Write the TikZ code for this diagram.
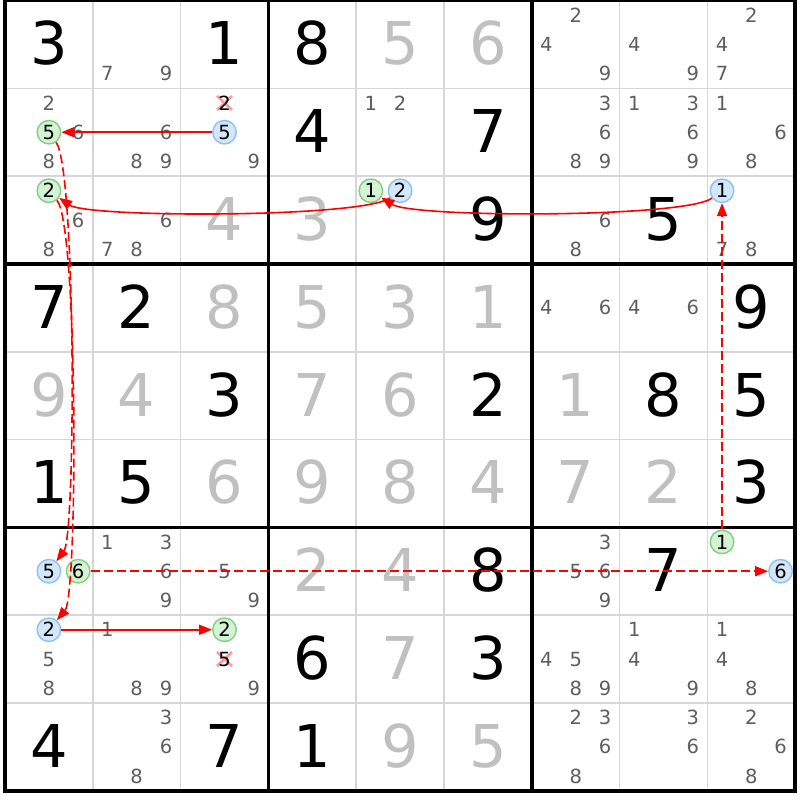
\documentclass[tikz,border=0pt]{standalone}
\usepackage{fontspec}
\setmainfont{DejaVu Sans}
\usetikzlibrary{arrows.meta}
\definecolor{candgray}{HTML}{5E5E5E}
\definecolor{solvgray}{HTML}{C0C0C0}
\definecolor{thingrid}{HTML}{D6D6D6}
\definecolor{gfill}{HTML}{D4F2D4}
\definecolor{gline}{HTML}{80D080}
\definecolor{bfill}{HTML}{D4E6FA}
\definecolor{bline}{HTML}{8CC2F2}
\definecolor{linkred}{HTML}{FF0000}
\definecolor{xred}{HTML}{FF9A9A}
\begin{document}
\begin{tikzpicture}[x=1pt,y=-1pt,
  given/.style={font=\fontsize{59}{59}\selectfont, text=black, inner sep=0pt, anchor=base},
  solved/.style={given, text=solvgray},
  cand/.style={font=\fontsize{19.5}{19.5}\selectfont, text=candgray, inner sep=0pt, anchor=base},
  circcand/.style={circle, font=\fontsize{19.5}{19.5}\selectfont, text=black, line width=1.4pt, minimum size=23.5pt, inner sep=0pt},
  gcirc/.style={circcand, draw=gline, fill=gfill},
  bcirc/.style={circcand, draw=bline, fill=bfill},
  strong/.style={draw=linkred, line width=1.6pt, -{Triangle[length=13pt,width=10pt]}},
  weak/.style={strong, dash pattern=on 9pt off 4pt},
  elim/.style={draw=xred, line width=2.6pt},
]
\useasboundingbox (0,0) rectangle (800,800);
\fill[white] (0,0) rectangle (800,800);
% thin grid
\foreach \i in {1,2,4,5,7,8} {
  \draw[thingrid, line width=1.6pt] ({5+\i*87.8},0.5) -- ({5+\i*87.8},790.7);
  \draw[thingrid, line width=1.6pt] (5,{0.5+\i*87.8}) -- (795.2,{0.5+\i*87.8});
}
% thick grid
\foreach \i in {0,3,6,9} {
  \draw[black, line width=3.6pt] ({5+\i*87.8},-1.3) -- ({5+\i*87.8},792.5);
  \draw[black, line width=3.6pt] (3.2,{0.5+\i*87.8}) -- (797,{0.5+\i*87.8});
}
% givens
\foreach \r/\c/\d in {1/1/3,1/3/1,1/4/8,2/4/4,2/6/7,3/6/9,3/8/5,4/1/7,4/2/2,4/9/9,5/3/3,5/6/2,5/8/8,5/9/5,6/1/1,6/2/5,6/9/3,7/6/8,7/8/7,8/4/6,8/6/3,9/1/4,9/3/7,9/4/1} {
  \pgfmathsetmacro\xx{5+(\c-0.5)*87.8}
  \pgfmathsetmacro\yy{0.5+(\r-1)*87.8+64.4}
  \node[given] (g\r\c) at (\xx,\yy) {\d};
}
% solved
\foreach \r/\c/\d in {1/5/5,1/6/6,3/3/4,3/4/3,4/3/8,4/4/5,4/5/3,4/6/1,5/1/9,5/2/4,5/4/7,5/5/6,5/7/1,6/3/6,6/4/9,6/5/8,6/6/4,6/7/7,6/8/2,7/4/2,7/5/4,8/5/7,9/5/9,9/6/5} {
  \pgfmathsetmacro\xx{5+(\c-0.5)*87.8}
  \pgfmathsetmacro\yy{0.5+(\r-1)*87.8+64.4}
  \node[solved] (s\r\c) at (\xx,\yy) {\d};
}
% plain candidates
\foreach \r/\c/\ds in {1/2/{7,9},1/7/{2,4,9},1/8/{4,9},1/9/{2,4,7},
  2/1/{2,6,8},2/2/{6,8,9},2/3/{9},2/5/{1,2},2/7/{3,6,8,9},2/8/{1,3,6,9},2/9/{1,6,8},
  3/1/{6,8},3/2/{6,7,8},3/7/{6,8},3/9/{7,8},
  4/7/{4,6},4/8/{4,6},
  7/2/{1,3,6,9},7/3/{5,9},7/7/{3,5,6,9},
  8/1/{5,8},8/2/{1,8,9},8/3/{9},8/7/{4,5,8,9},8/8/{1,4,9},8/9/{1,4,8},
  9/2/{3,6,8},9/7/{2,3,6,8},9/8/{3,6},9/9/{2,6,8}} {
  \foreach \d in \ds {
    \pgfmathsetmacro\xx{5+(\c-1)*87.8+(mod(\d-1,3)+0.5)*29.267}
    \pgfmathsetmacro\yy{0.5+(\r-1)*87.8+(floor((\d-1)/3)+0.5)*29.267+7.1}
    \node[cand] (k\r\c\d) at (\xx,\yy) {\d};
  }
}
% eliminated candidates
\foreach \r/\c/\d in {2/3/2,8/3/5} {
  \pgfmathsetmacro\xx{5+(\c-1)*87.8+(mod(\d-1,3)+0.5)*29.267}
  \pgfmathsetmacro\yy{0.5+(\r-1)*87.8+(floor((\d-1)/3)+0.5)*29.267}
  \draw[elim] (\xx-7.5,\yy-7) -- (\xx+7.5,\yy+7);
  \draw[elim] (\xx-7.5,\yy+7) -- (\xx+7.5,\yy-7);
  \node[cand, text=black] (x\r\c\d) at (\xx,\yy+7.1) {\d};
}
% circled candidates
\foreach \r/\c/\d/\sty in {2/1/5/gcirc,3/1/2/gcirc,3/5/1/gcirc,7/1/6/gcirc,7/9/1/gcirc,8/3/2/gcirc,
  2/3/5/bcirc,3/5/2/bcirc,3/9/1/bcirc,7/1/5/bcirc,7/9/6/bcirc,8/1/2/bcirc} {
  \pgfmathsetmacro\xx{5+(\c-1)*87.8+(mod(\d-1,3)+0.5)*29.267}
  \pgfmathsetmacro\yy{0.5+(\r-1)*87.8+(floor((\d-1)/3)+0.5)*29.267}
  \node[\sty] (n\r\c\d) at (\xx,\yy) {\d};
}
% links
\draw[strong] (n235) -- (n215);
\draw[weak] (n215) .. controls (76,170) and (76,535) .. (n715);
\draw[weak] (n716) -- (n796);
\draw[weak] (n791) -- (n391);
\draw[strong] (n391) .. controls (685,218) and (413,218) .. (n351);
\draw[strong] (n352) .. controls (362,218) and (88,218) .. (n312);
\draw[weak] (n312) .. controls (78,225) and (78,595) .. (n812);
\draw[strong] (n812) -- (n832);
\end{tikzpicture}
\end{document}
